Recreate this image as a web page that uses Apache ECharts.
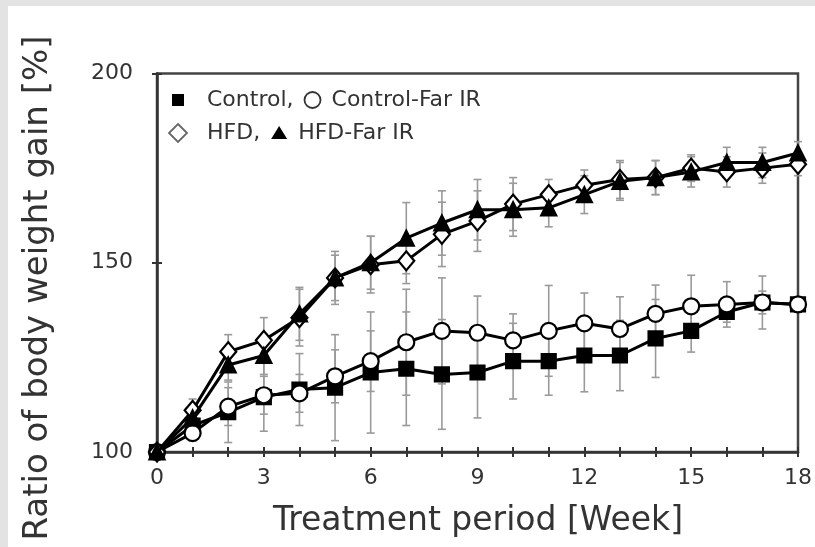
<!DOCTYPE html>
<html><head><meta charset="utf-8">
<script src="https://cdn.jsdelivr.net/npm/echarts@6.0.0/dist/echarts.min.js"></script>
<style>
html,body{margin:0;padding:0;background:#e3e3e3;width:815px;height:547px;overflow:hidden}
#c{position:absolute;left:8px;top:6px;width:807px;height:541px;background:#fff}
</style>
</head><body><div id="c"></div>
<script>
const weeks = [0,1,2,3,4,5,6,7,8,9,10,11,12,13,14,15,16,17,18];
const xTicks = [0,3,6,9,12,15,18];
const yTicks = [100,150,200];
const control      = [100,107,110.5,114.5,116.5,117,121,122,120.5,121,124,124,125.5,125.5,130,132,137,139.5,139];
const controlSD    = [0,3,8,9,9.5,14,16,15,14.5,12,10,9,9.6,9.3,10.3,5.6,2.7,3,2];
const controlFIR   = [100,105,112,115,115.5,120,124,129,132,131.5,129.5,132,134,132.5,136.5,138.5,139,139.5,139];
const controlFIRSD = [0,2,5,5,5,7,8,14,14,9.7,7,12,8,8.5,7.6,8.2,6,7,2];
const hfd          = [100,111,126.5,129.5,135.5,146,149.5,150.5,157.5,161,165.5,168,170.5,172,172.5,175,174,175,176];
const hfdSD        = [0,3,4.5,6,7.5,6,7.5,6,8.5,8,7,4,4,5,4.5,3.5,4,4,3];
const hfdFIR       = [100,109,123,125.5,136.5,146,150,156.5,160.5,164,164,164.5,168,171.5,172.5,174,176.5,176.5,179];
const hfdFIRSD     = [0,3,4,5,7,7,7,9.4,8.5,8,7,5,5,5,4.5,4,4,4,3];

const FONT = 'DejaVu Sans';
const TXT = '#333';
const LEG_FONT = '22px "' + FONT + '"';
const chart = echarts.init(document.getElementById('c'));

const mctx = document.createElement('canvas').getContext('2d');
mctx.font = LEG_FONT;
const tw = s => mctx.measureText(s).width;

function pts(v){ return weeks.map((w,i)=>[w, v[i]]); }
function errSeries(name, vals, sds){
  return {
    type:'custom', name: name + ' err', silent:true, z:1,
    data: weeks.map((w,i)=>[w, vals[i]-sds[i], vals[i]+sds[i]]),
    encode:{x:0, y:[1,2]},
    renderItem(params, api){
      if (api.value(2) - api.value(1) <= 0) return null;
      const x = api.value(0);
      const lo = api.coord([x, api.value(1)]);
      const hi = api.coord([x, api.value(2)]);
      const w = 4;
      const st = {stroke:'#9a9a9a', lineWidth:1.6};
      return {type:'group', children:[
        {type:'line', shape:{x1:lo[0],y1:lo[1],x2:hi[0],y2:hi[1]}, style:st},
        {type:'line', shape:{x1:lo[0]-w,y1:lo[1],x2:lo[0]+w,y2:lo[1]}, style:st},
        {type:'line', shape:{x1:hi[0]-w,y1:hi[1],x2:hi[0]+w,y2:hi[1]}, style:st}
      ]};
    }
  };
}
function lineSeries(name, vals, symbol, size, fill, z){
  return {
    type:'line', name, data: pts(vals), symbol, symbolSize:size, z,
    showAllSymbol:true, animation:false,
    itemStyle:{color:fill, borderColor:'#000', borderWidth:2.2},
    lineStyle:{color:'#000', width:3}
  };
}

// legend layout (measured from text widths)
const gap = 11;
const tx = 199;
const c1x = tx + tw('Control,') + gap + 8;
const t1x = c1x + 8 + gap;
const c2x = tx + tw('HFD,') + gap + 8;
const t2x = c2x + 8 + gap;

const axisCol = '#333';
const option = {
  animation:false,
  grid:{left:149, right:12, top:67.5, bottom:95, show:true, borderColor:'#444', borderWidth:2.5, backgroundColor:'transparent'},
  xAxis:[
    {type:'value', min:0, max:18, interval:3,
     axisLine:{show:true, lineStyle:{color:axisCol, width:2.5}},
     axisTick:{show:true, length:5, lineStyle:{color:axisCol, width:2}},
     minorTick:{show:true, splitNumber:3, length:5, lineStyle:{color:axisCol, width:2}},
     splitLine:{show:false},
     axisLabel:{fontSize:22, color:TXT, margin:15, fontFamily:FONT,
       formatter:v=>xTicks.includes(v)?String(v):''}},
    {type:'value', min:0, max:18, interval:3, position:'bottom',
     axisLine:{show:false},
     axisTick:{show:true, inside:true, length:5, lineStyle:{color:axisCol, width:2}},
     minorTick:{show:true, splitNumber:3, length:5, lineStyle:{color:axisCol, width:2}},
     splitLine:{show:false}, axisLabel:{show:false}}
  ],
  yAxis:[
    {type:'value', min:100, max:200, interval:50,
     axisLine:{show:true, lineStyle:{color:axisCol, width:2.5}},
     axisTick:{show:true, length:5, lineStyle:{color:axisCol, width:2}},
     splitLine:{show:false},
     axisLabel:{fontSize:22, color:TXT, margin:24, fontFamily:FONT,
       formatter:v=>yTicks.includes(v)?String(v):''}},
    {type:'value', min:100, max:200, interval:50, position:'left',
     axisLine:{show:false},
     axisTick:{show:true, inside:true, length:5, lineStyle:{color:axisCol, width:2}},
     splitLine:{show:false}, axisLabel:{show:false}}
  ],
  series:[
    errSeries('Control', control, controlSD),
    errSeries('Control-Far IR', controlFIR, controlFIRSD),
    errSeries('HFD', hfd, hfdSD),
    errSeries('HFD-Far IR', hfdFIR, hfdFIRSD),
    lineSeries('Control', control, 'rect', 14, '#000', 3),
    lineSeries('Control-Far IR', controlFIR, 'circle', 16, '#fff', 4),
    lineSeries('HFD', hfd, 'diamond', [16,19], '#fff', 5),
    lineSeries('HFD-Far IR', hfdFIR, 'triangle', 15, '#000', 6)
  ],
  graphic:[
    {type:'rect', shape:{x:164,y:88,width:12,height:12}, style:{fill:'#000'}, z:20},
    {type:'text', x:tx, y:94, z:20, style:{text:'Control,', fill:TXT, font:LEG_FONT, textVerticalAlign:'middle'}},
    {type:'circle', shape:{cx:c1x,cy:94,r:8}, style:{fill:'#fff', stroke:'#333', lineWidth:1.8}, z:20},
    {type:'text', x:t1x, y:94, z:20, style:{text:'Control-Far IR', fill:TXT, font:LEG_FONT, textVerticalAlign:'middle'}},
    {type:'polygon', shape:{points:[[170,118],[179,127],[170,136],[161,127]]}, style:{fill:'#fff', stroke:'#666', lineWidth:1.8}, z:20},
    {type:'text', x:tx, y:127, z:20, style:{text:'HFD,', fill:TXT, font:LEG_FONT, textVerticalAlign:'middle'}},
    {type:'polygon', shape:{points:[[c2x,120],[c2x+8,133],[c2x-8,133]]}, style:{fill:'#000'}, z:20},
    {type:'text', x:t2x, y:127, z:20, style:{text:'HFD-Far IR', fill:TXT, font:LEG_FONT, textVerticalAlign:'middle'}},
    {type:'text', x:470, y:515, z:20, style:{
      text:'Treatment period [Week]', fill:TXT, font:'33px "'+FONT+'"',
      textAlign:'center', textVerticalAlign:'middle'}},
    {type:'text', x:30, y:282, rotation:Math.PI/2, z:20, style:{
      text:'Ratio of body weight gain [%]', fill:TXT, font:'34px "'+FONT+'"',
      textAlign:'center', textVerticalAlign:'middle'}}
  ]
};
chart.setOption(option);
</script>
</body></html>
